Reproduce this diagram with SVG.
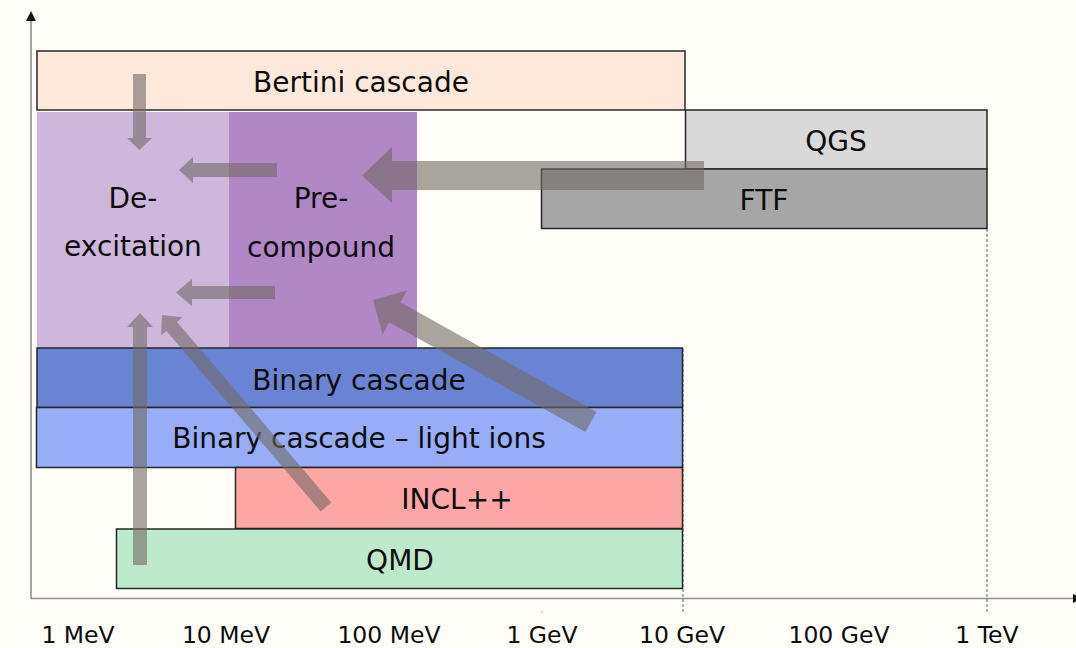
<svg xmlns="http://www.w3.org/2000/svg" width="1076" height="648" viewBox="0 0 1076 648">
  <style>
    .box{stroke:#262626;stroke-width:1.5}
    .lbl{font-family:"DejaVu Sans",sans-serif;font-size:28px;fill:#0d0d0d;text-anchor:middle}
    .ax{font-family:"DejaVu Sans",sans-serif;font-size:23.5px;fill:#0d0d0d;text-anchor:middle}
    .axis{stroke:#8f8f8f;stroke-width:1.6;fill:none}
    .dash{stroke:#808080;stroke-width:1.2;stroke-dasharray:3 2;fill:none}
    .arr{fill:#716964;fill-opacity:0.6}
  </style>
  <rect width="1076" height="648" fill="#fefdf8"/>

  <g id="axes">
    <line class="axis" x1="31" y1="599" x2="31" y2="19"/>
    <polygon points="26,21 36,21 31,11" fill="#111"/>
    <line class="axis" x1="31" y1="598.5" x2="1076" y2="598.5"/>
    <polygon points="1073,594 1082,598.5 1073,603" fill="#111"/>
    <line class="dash" x1="683" y1="349" x2="683" y2="612"/>
    <line class="dash" x1="987" y1="229" x2="987" y2="612"/>
    <line x1="542" y1="611" x2="542" y2="613" stroke="#bbb" stroke-width="1"/>
    <text class="ax" x="78" y="643">1 MeV</text>
    <text class="ax" x="226" y="643">10 MeV</text>
    <text class="ax" x="389" y="643">100 MeV</text>
    <text class="ax" x="542" y="643">1 GeV</text>
    <text class="ax" x="682" y="643">10 GeV</text>
    <text class="ax" x="839" y="643">100 GeV</text>
    <text class="ax" x="987" y="643">1 TeV</text>
  </g>

  <g id="bertini">
    <rect class="box" x="37" y="51" width="648" height="59" fill="#fde9dc"/>
    <text class="lbl" x="361" y="92">Bertini cascade</text>
  </g>
  <g id="qgs">
    <rect class="box" x="685.5" y="110" width="301.5" height="59" fill="#d9d9d9"/>
    <text class="lbl" x="836" y="151">QGS</text>
  </g>
  <g id="ftf">
    <rect class="box" x="541.5" y="169" width="445.5" height="59.5" fill="#a6a6a6"/>
    <text class="lbl" x="764" y="210">FTF</text>
  </g>
  <g id="deexcitation">
    <rect x="37" y="112" width="192" height="236" fill="#cdb7db"/>
    <text class="lbl" x="133" y="208">De-</text>
    <text class="lbl" x="133" y="256">excitation</text>
  </g>
  <g id="precompound">
    <rect x="229" y="112" width="188" height="236" fill="#af88c5"/>
    <text class="lbl" x="321" y="208">Pre-</text>
    <text class="lbl" x="321" y="257">compound</text>
  </g>
  <g id="binary">
    <rect class="box" x="37" y="348" width="645.5" height="59.5" fill="#6a84d4"/>
    <text class="lbl" x="359" y="390">Binary cascade</text>
  </g>
  <g id="binary-light-ions">
    <rect class="box" x="36.5" y="407.5" width="646" height="60" fill="#97aef7"/>
    <text class="lbl" x="359" y="448">Binary cascade – light ions</text>
  </g>
  <g id="incl">
    <rect class="box" x="235.5" y="467.5" width="447" height="61" fill="#fca6a5"/>
    <text class="lbl" x="457" y="509">INCL++</text>
  </g>
  <g id="qmd">
    <rect class="box" x="116.5" y="529" width="566" height="59.5" fill="#bde9cd"/>
    <text class="lbl" x="400" y="570">QMD</text>
  </g>

  <g id="connectors">
    <polygon class="arr" points="133,74 146,74 146,138 152,138 139.5,150 127,138 133,138"/>
    <polygon class="arr" points="277,163 277,177 193,177 193,183 179,170 193,157 193,163"/>
    <polygon class="arr" points="275,286 275,299 192,299 192,306 176,292.5 192,279 192,286"/>
    <polygon class="arr" points="704,161 704,190 392,190 392,203 362,175.5 392,147 392,161"/>
    <polygon class="arr" points="596.6,412 400.4,302.2 407,290.4 373,300 382.6,334 389.2,322.2 585.4,432"/>
    <polygon class="arr" points="331.3,502.5 177,321.9 182.3,317.3 162,315 161.1,335.5 166.4,330.9 320.7,511.5"/>
    <polygon class="arr" points="133,565 147,565 147,327 153,327 140,313 127,327 133,327"/>
  </g>
</svg>
